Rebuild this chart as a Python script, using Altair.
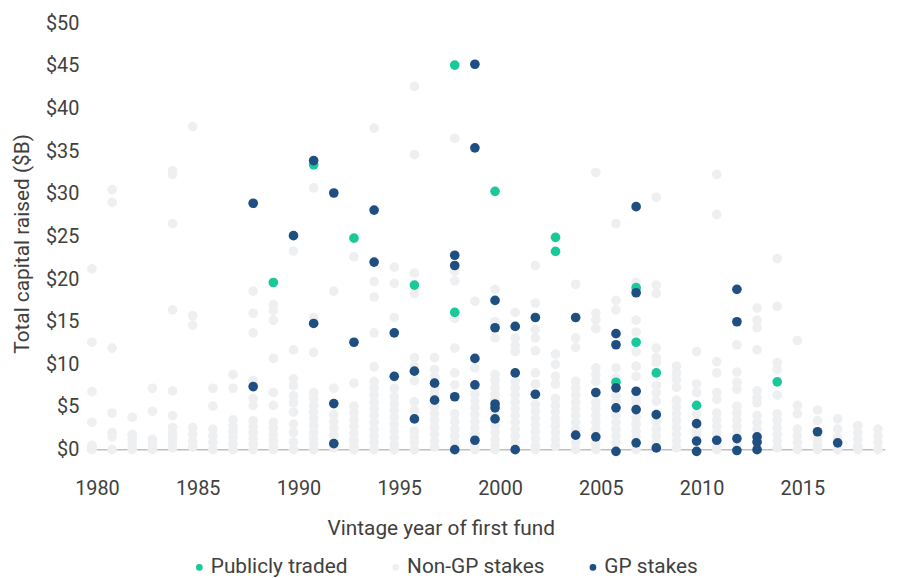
import altair as alt
import pandas as pd

# ---- Non-GP stakes (year, total capital raised $B) ----
nongp_years = (
    [1980] * 7 + [1981] * 7 + [1982] * 5 + [1983] * 5 + [1984] * 11 + [1985] * 7
    + [1986] * 6 + [1987] * 8 + [1988] * 12 + [1989] * 12 + [1990] * 11 + [1991] * 13
    + [1992] * 8 + [1993] * 10 + [1994] * 16 + [1995] * 13 + [1996] * 13 + [1997] * 12
    + [1998] * 12 + [1999] * 11 + [2000] * 14 + [2001] * 14 + [2002] * 15 + [2003] * 12
    + [2004] * 13 + [2005] * 14 + [2006] * 12 + [2007] * 13 + [2008] * 13 + [2009] * 12
    + [2010] * 6 + [2011] * 12 + [2012] * 10 + [2013] * 10 + [2014] * 11 + [2015] * 7
    + [2016] * 5 + [2017] * 4 + [2018] * 5 + [2019] * 4
)
nongp_values = [
    21.2, 12.6, 6.8, 3.2, 0.5, 0.2, 0.0,
    30.5, 29.0, 11.9, 4.3, 2.0, 1.5, 0.0,
    3.8, 1.8, 1.2, 0.6, 0.0,
    7.2, 4.5, 1.2, 0.6, 0.0,
    32.7, 32.3, 26.5, 16.4, 6.9, 4.0, 2.6, 2.0, 1.4, 0.8, 0.2,
    37.9, 15.7, 14.6, 2.6, 1.8, 1.0, 0.3,
    7.2, 5.1, 2.4, 1.6, 0.8, 0.0,
    8.8, 7.2, 3.5, 2.8, 2.1, 1.4, 0.7, 0.0,
    18.6, 16.0, 13.7, 8.1, 6.0, 5.2, 3.4, 2.7, 2.0, 1.3, 0.6, 0.0,
    17.0, 16.3, 15.2, 10.7, 6.7, 5.2, 3.2, 2.5, 1.8, 1.1, 0.4, 0.0,
    23.3, 11.7, 8.3, 7.5, 6.3, 5.5, 4.4, 3.0, 2.0, 0.9, 0.0,
    30.7, 15.5, 11.4, 6.7, 6.0, 5.2, 4.4, 3.6, 2.8, 2.0, 1.3, 0.6, 0.0,
    18.6, 7.2, 4.1, 3.3, 2.5, 1.7, 1.0, 0.2,
    22.6, 7.8, 5.1, 4.3, 3.5, 2.7, 1.9, 1.1, 0.4, 0.0,
    37.7, 19.7, 17.9, 13.7, 9.7, 8.0, 7.2, 6.4, 5.6, 4.8, 4.0, 3.2, 2.4, 1.6, 0.8, 0.0,
    21.4, 19.5, 15.5, 7.2, 6.2, 5.4, 4.6, 3.8, 3.0, 2.2, 1.4, 0.6, 0.0,
    42.6, 34.6, 20.7, 18.3, 10.8, 9.8, 8.1, 5.6, 4.6, 2.2, 1.5, 0.8, 0.0,
    10.8, 9.4, 8.6, 7.0, 6.4, 5.0, 4.2, 3.4, 2.6, 1.8, 1.0, 0.3,
    36.5, 20.9, 19.8, 15.4, 11.9, 9.0, 7.6, 4.2, 3.3, 2.4, 1.6, 0.8,
    17.4, 9.6, 6.5, 5.7, 4.9, 4.1, 3.3, 2.5, 1.8, 0.5, 0.0,
    18.8, 15.0, 13.1, 8.8, 8.1, 7.3, 6.5, 5.8, 4.3, 2.8, 2.0, 1.2, 0.5, 0.0,
    16.1, 13.1, 12.2, 11.5, 8.0, 7.2, 6.4, 5.6, 4.8, 4.0, 3.2, 2.4, 1.6, 0.8,
    21.6, 17.2, 14.1, 13.1, 11.6, 9.0, 7.7, 5.3, 4.5, 3.7, 2.9, 2.1, 1.3, 0.5, 0.0,
    11.2, 10.0, 8.6, 7.7, 6.0, 5.2, 4.4, 3.6, 2.8, 2.0, 1.2, 0.4,
    19.4, 13.1, 12.0, 8.0, 7.2, 6.4, 5.6, 4.8, 4.0, 3.2, 2.4, 0.8, 0.0,
    32.5, 16.0, 15.2, 14.2, 9.6, 8.8, 8.0, 5.6, 4.8, 4.0, 3.2, 2.4, 0.7, 0.0,
    26.5, 17.5, 16.4, 9.6, 8.4, 6.3, 5.6, 4.0, 3.2, 2.4, 1.6, 0.8,
    19.6, 15.2, 13.8, 11.5, 9.8, 8.6, 6.0, 5.5, 3.8, 3.0, 2.2, 1.5, 0.0,
    29.6, 19.3, 18.3, 11.9, 10.8, 10.2, 7.5, 6.7, 5.7, 3.2, 2.4, 1.6, 0.8,
    9.8, 9.0, 8.2, 7.3, 5.8, 5.0, 4.2, 3.4, 2.6, 1.8, 1.0, 0.2,
    11.5, 7.7, 6.7, 4.2, 2.2, 1.6,
    32.3, 27.6, 10.3, 9.0, 6.7, 5.9, 4.3, 3.5, 2.7, 1.9, 0.3, 0.0,
    12.3, 9.1, 7.9, 7.1, 5.1, 4.3, 3.5, 2.7, 1.9, 0.6,
    16.6, 15.2, 14.3, 11.7, 6.9, 6.1, 5.5, 4.0, 3.2, 2.4,
    22.4, 16.8, 10.2, 9.4, 6.4, 4.2, 3.4, 2.6, 1.8, 1.0, 0.2,
    12.8, 5.2, 4.2, 2.4, 1.6, 0.8, 0.0,
    4.65, 3.4, 1.2, 0.5, 0.0,
    3.6, 2.4, 1.4, 0.0,
    2.8, 2.0, 1.2, 0.4, 0.0,
    2.4, 1.6, 0.8, 0.0,
]

# ---- GP stakes ----
gp_years = [
    1988, 1988, 1990, 1991, 1991, 1992, 1992, 1992, 1993, 1994, 1994, 1995, 1995,
    1996, 1996, 1997, 1997, 1998, 1998, 1998, 1998, 1999, 1999, 1999, 1999, 1999,
    2000, 2000, 2000, 2000, 2000, 2001, 2001, 2001, 2002, 2002, 2004, 2004, 2005, 2005,
    2006, 2006, 2006, 2006, 2006, 2007, 2007, 2007, 2007, 2007, 2008, 2008,
    2010, 2010, 2010, 2011, 2012, 2012, 2012, 2012, 2013, 2013, 2013, 2016, 2017,
]
gp_values = [
    28.9, 7.4, 25.1, 33.9, 14.8, 30.1, 5.4, 0.7, 12.6, 28.1, 22.0, 13.7, 8.6,
    9.2, 3.6, 7.8, 5.8, 22.8, 21.6, 6.2, 0.0, 45.2, 35.4, 10.7, 7.6, 1.1,
    17.5, 14.3, 5.35, 4.9, 3.6, 14.45, 9.0, 0.0, 15.5, 6.5, 15.5, 1.7, 6.7, 1.5,
    13.6, 12.3, 7.25, 4.9, -0.2, 28.5, 18.4, 6.85, 4.7, 0.8, 4.1, 0.2,
    3.05, 1.0, -0.2, 1.1, 18.8, 15.0, 1.3, -0.1, 1.5, 0.9, 0.0, 2.1, 0.8,
]

# ---- Publicly traded ----
pub_years = [1989, 1991, 1993, 1996, 1998, 1998, 2000, 2003, 2003, 2006, 2007, 2007, 2008, 2010, 2014]
pub_values = [19.6, 33.4, 24.8, 19.3, 45.1, 16.1, 30.3, 24.9, 23.25, 7.9, 19.0, 12.6, 9.0, 5.2, 7.95]

categories = ["Publicly traded", "Non-GP stakes", "GP stakes"]
colors = ["#19C999", "#EEEFF1", "#1F4E80"]
x_ticks = [1980, 1985, 1990, 1995, 2000, 2005, 2010, 2015]
y_ticks = [0, 5, 10, 15, 20, 25, 30, 35, 40, 45, 50]

rows = []
for yr, v in zip(nongp_years, nongp_values):
    rows.append({"year": yr, "value": v, "type": "Non-GP stakes", "z": 0})
for yr, v in zip(pub_years, pub_values):
    rows.append({"year": yr, "value": v, "type": "Publicly traded", "z": 1})
for yr, v in zip(gp_years, gp_values):
    rows.append({"year": yr, "value": v, "type": "GP stakes", "z": 2})
df = pd.DataFrame(rows).sort_values("z", kind="stable")

FONT = "Roboto"
TXT = "#404040"

xscale = alt.Scale(domain=[1979.5, 2019.3], nice=False, zero=False)
yscale = alt.Scale(domain=[0, 50], nice=False, zero=False)

baseline = alt.Chart(pd.DataFrame({"a": [0]})).mark_rule(
    color="#BFBFBF", strokeWidth=1.5
).encode(
    x=alt.datum(1979.75, scale=xscale),
    x2=alt.datum(2019.36),
    y=alt.datum(0, scale=yscale),
)

points = alt.Chart(df).mark_circle(size=95, opacity=1).encode(
    x=alt.X(
        "year:Q",
        scale=xscale,
        axis=alt.Axis(
            values=x_ticks,
            format="d",
            title="Vintage year of first fund",
            domain=False,
            ticks=False,
            tickSize=0,
            grid=False,
            labelFont=FONT,
            labelFontSize=20,
            labelColor=TXT,
            labelPadding=29,
            labelOffset=5,
            labelFlush=False,
            labelOverlap=False,
            titleFont=FONT,
            titleFontSize=21,
            titleFontWeight="normal",
            titleColor=TXT,
            titleX=362,
            titleY=80,
            titleAlign="center",
            titleBaseline="middle",
        ),
    ),
    y=alt.Y(
        "value:Q",
        scale=yscale,
        axis=alt.Axis(
            values=y_ticks,
            labelExpr="'$' + datum.value",
            title="Total capital raised ($B)",
            domain=False,
            ticks=False,
            tickSize=0,
            grid=False,
            labelFont=FONT,
            labelFontSize=20,
            labelColor=TXT,
            labelPadding=3,
            labelFlush=False,
            labelOverlap=False,
            titleFont=FONT,
            titleFontSize=21,
            titleFontWeight="normal",
            titleColor=TXT,
            titleAngle=270,
            titleX=-60,
            titleY=222,
            titleAlign="center",
            titleBaseline="middle",
        ),
    ),
    color=alt.Color(
        "type:N",
        scale=alt.Scale(domain=categories, range=colors),
        legend=alt.Legend(
            title=None,
            orient="none",
            direction="horizontal",
            legendX=108,
            legendY=538,
            symbolType="circle",
            symbolSize=45,
            symbolStrokeWidth=0,
            symbolOpacity=1,
            labelFont=FONT,
            labelFontSize=21,
            labelColor=TXT,
            labelOffset=1,
            columnPadding=38,
            padding=0,
        ),
    ),
    order=alt.Order("z:Q"),
)

chart = alt.layer(baseline, points).properties(
    width=809.1,
    height=430,
    padding={"left": 74.5, "top": 13, "right": 5, "bottom": 127},
    autosize=alt.AutoSizeParams(type="none"),
    background="white",
).configure_view(stroke="transparent")

chart.save("out.html", embed_options={"renderer": "svg", "actions": False})
